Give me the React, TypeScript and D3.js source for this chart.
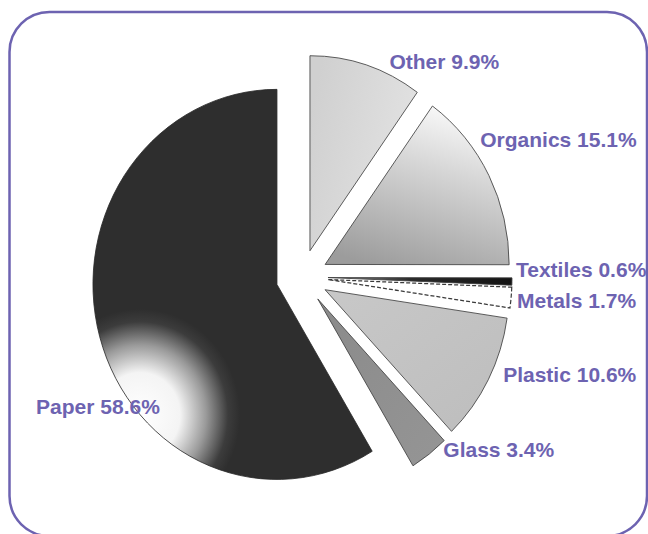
import * as d3 from 'd3';

// waste composition, share of total (%)
const categories = ['Other', 'Organics', 'Textiles', 'Metals', 'Plastic', 'Glass', 'Paper'];
const shares = [9.9, 15.1, 0.6, 1.7, 10.6, 3.4, 58.6];

const W = 648;
const H = 534;
const CX = 302;
const CY = 277;
const SY = 1.06; // pie is drawn slightly taller than wide
const R = 184;
const EXPLODE = 26;
const INK = '#6d63b1';

// small hand tweaks so labels sit where the original put them
const labelNudge: [number, number][] = [
  [20, 6], [-17.6, -31], [-6, -12.5], [-4, 2], [6, -10], [8, -13], [-54, 66.5],
];

const fillIds = ['gOther', 'gOrganics', 'gTextiles', 'gMetals', 'gPlastic', 'gGlass', 'gPaper'];

export default function App() {
  const pie = d3.pie<number>().sort(null).value(d => d);
  const arcs = pie(shares);
  const arc = d3.arc<d3.PieArcDatum<number>>().innerRadius(0).outerRadius(R);

  const offset = (a: d3.PieArcDatum<number>, dist: number) => {
    const mid = (a.startAngle + a.endAngle) / 2;
    return [dist * Math.sin(mid), -dist * Math.cos(mid)];
  };

  // paper highlight centre, given in page space, moved into the slice's own space
  const paperOff = offset(arcs[6], EXPLODE);
  const hlX = 140 - CX - paperOff[0];
  const hlY = (415 - CY) / SY - paperOff[1];

  return (
    <svg width={W} height={H} style={{ position: 'absolute', left: 0, top: 0, background: '#fff' }}>
      <defs>
        <linearGradient id="gOther" x1="0" y1="0.3" x2="1" y2="0.7">
          <stop offset="0" stopColor="#d0d0d0" />
          <stop offset="1" stopColor="#e4e4e4" />
        </linearGradient>
        <linearGradient id="gOrganics" x1="0.6" y1="0" x2="0.25" y2="1">
          <stop offset="0" stopColor="#f8f8f8" />
          <stop offset="0.35" stopColor="#d6d6d6" />
          <stop offset="1" stopColor="#9c9c9c" />
        </linearGradient>
        <linearGradient id="gTextiles" x1="0" y1="0" x2="1" y2="0">
          <stop offset="0" stopColor="#9a9a9a" />
          <stop offset="0.45" stopColor="#2a2a2a" />
          <stop offset="1" stopColor="#141414" />
        </linearGradient>
        <linearGradient id="gMetals" x1="0" y1="0" x2="1" y2="0">
          <stop offset="0" stopColor="#ffffff" />
          <stop offset="1" stopColor="#ffffff" />
        </linearGradient>
        <linearGradient id="gPlastic" x1="0" y1="0" x2="1" y2="1">
          <stop offset="0" stopColor="#c8c8c8" />
          <stop offset="1" stopColor="#bdbdbd" />
        </linearGradient>
        <linearGradient id="gGlass" x1="0" y1="0" x2="1" y2="1">
          <stop offset="0" stopColor="#8a8a8a" />
          <stop offset="1" stopColor="#959595" />
        </linearGradient>
        <radialGradient id="gPaper" gradientUnits="userSpaceOnUse" cx={hlX} cy={hlY} r={100}>
          <stop offset="0" stopColor="#ffffff" />
          <stop offset="0.4" stopColor="#f4f4f4" />
          <stop offset="0.66" stopColor="#9a9a9a" />
          <stop offset="0.88" stopColor="#3c3c3c" />
          <stop offset="1" stopColor="#2e2e2e" />
        </radialGradient>
      </defs>

      <rect x={9.5} y={12} width={637.5} height={524} rx={40} ry={40}
        fill="none" stroke={INK} strokeWidth={2.5} />

      <g transform={`translate(${CX},${CY}) scale(1,${SY})`}>
        {arcs.map((a, i) => {
          const [dx, dy] = offset(a, EXPLODE);
          const isMetals = categories[i] === 'Metals';
          return (
            <g key={categories[i]} transform={`translate(${dx},${dy})`}>
              <path
                d={arc(a) ?? ''}
                fill={`url(#${fillIds[i]})`}
                stroke={categories[i] === 'Paper' ? '#2a2a2a' : '#3a3a3a'}
                strokeWidth={isMetals ? 1.2 : 0.8}
                strokeDasharray={isMetals ? '4 2' : undefined}
              />
            </g>
          );
        })}
      </g>

      {arcs.map((a, i) => {
        const [ox, oy] = offset(a, EXPLODE);
        const [lx, ly] = offset(a, R + 10);
        const x = CX + ox + lx + labelNudge[i][0];
        const y = CY + (oy + ly) * SY + labelNudge[i][1];
        return (
          <text key={categories[i]} x={x} y={y} dy="0.36em"
            fontFamily="'Liberation Sans', Arial, sans-serif" fontWeight="bold"
            fontSize={21} fill={INK}>
            {`${categories[i]} ${shares[i]}%`}
          </text>
        );
      })}
    </svg>
  );
}
